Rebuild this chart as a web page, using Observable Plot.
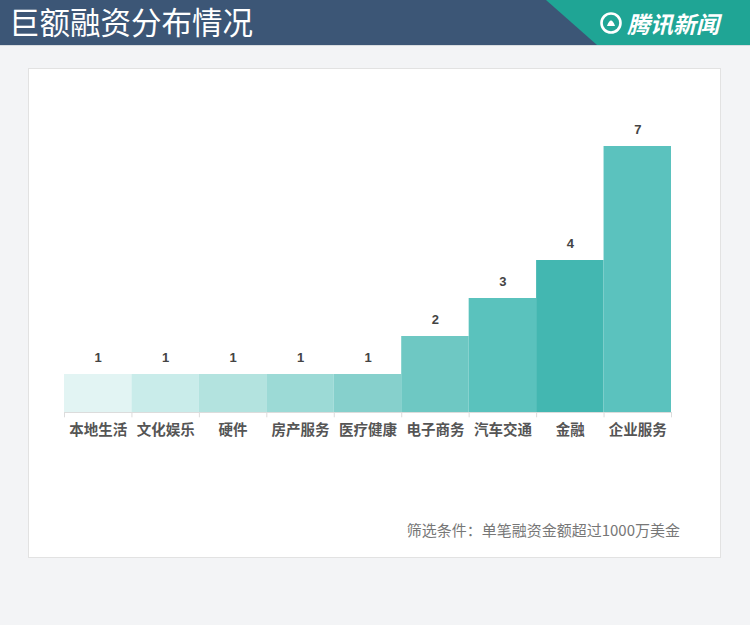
<!DOCTYPE html>
<html><head><meta charset="utf-8">
<script src="https://cdn.jsdelivr.net/npm/d3@7"></script>
<script src="https://cdn.jsdelivr.net/npm/@observablehq/plot@0.6"></script>
<style>
html,body{margin:0;padding:0;}
body{width:750px;height:625px;background:#f3f4f6;position:relative;overflow:hidden;font-family:"Noto Sans CJK SC","Noto Sans",sans-serif;}
#header{position:absolute;left:0;top:0;width:750px;height:45px;background:#3c5676;border-bottom:1px solid #d8dce0;}
#teal{position:absolute;left:0;top:0;width:750px;height:45px;background:#1fa595;clip-path:polygon(546px 0,750px 0,750px 45px,597px 45px);}
#title{position:absolute;left:9px;top:1px;color:#fff;font-size:30.5px;line-height:40px;font-weight:400;}
#logo{position:absolute;left:599px;top:7px;height:32px;display:flex;align-items:center;color:#fff;font-size:23px;font-weight:700;font-style:italic;}
#logo svg{margin-right:4px;}
#card{position:absolute;left:28px;top:68px;width:691px;height:488px;background:#fff;border:1px solid #e2e2e2;}
#chart{position:absolute;left:0;top:0;}
#caption{position:absolute;right:40px;top:450px;color:#777;font-size:15px;}
</style></head>
<body>
<div id="header"><div id="teal"></div><div id="title">巨额融资分布情况</div>
<div id="logo"><svg width="24" height="24" viewBox="0 0 24 24"><circle cx="12" cy="12" r="9.5" fill="none" stroke="#fff" stroke-width="2.6"/><path d="M8 15 Q12 4 16 15 Z" fill="#fff"/></svg>腾讯新闻</div></div>
<div id="card"><div id="chart"></div><div id="caption">筛选条件：单笔融资金额超过1000万美金</div></div>
<script>
const categories = ["本地生活","文化娱乐","硬件","房产服务","医疗健康","电子商务","汽车交通","金融","企业服务"];
const counts = [1,1,1,1,1,2,3,4,7];
const barColors = ["#e2f4f3","#c9ecea","#b3e3df","#9cdad6","#86d0cc","#6ec8c3","#5ac2bd","#43b7b1","#5bc2be"];
const data = categories.map((c,i)=>({category:c,count:counts[i]}));

const W = 691, mL = 35, mR = 49;
const bw = (W - mL - mR) / categories.length;

const chart = Plot.plot({
  width: W,
  height: 400,
  marginLeft: mL,
  marginRight: mR,
  marginTop: 77,
  marginBottom: 57,
  style: {fontFamily: '"Noto Sans CJK SC", sans-serif', background: "transparent"},
  x: {domain: categories, padding: 0, round: false, label: null},
  y: {domain: [0, 7], axis: null},
  color: {domain: categories, range: barColors},
  marks: [
    Plot.barY(data, {x: "category", y: "count", fill: "category", inset: 0}),
    Plot.ruleY([0], {stroke: "#dcdcdc"}),
    Plot.ruleX(categories, {x: d => d, y1: 0, y2: -0.14, dx: -bw/2, stroke: "#dcdcdc"}),
    Plot.ruleX([categories[categories.length-1]], {x: d => d, y1: 0, y2: -0.14, dx: bw/2, stroke: "#dcdcdc"}),
    Plot.text(data, {x: "category", y: "count", text: d => String(d.count), dy: -17, fill: "#444", fontSize: 13, fontWeight: "bold", fontFamily: "Liberation Sans, Arial, sans-serif"}),
    Plot.axisX({tickSize: 0, tickPadding: 12, fontSize: 14.5, fontWeight: "bold", fill: "#555", label: null})
  ]
});
document.getElementById("chart").appendChild(chart);
</script>
</body></html>
